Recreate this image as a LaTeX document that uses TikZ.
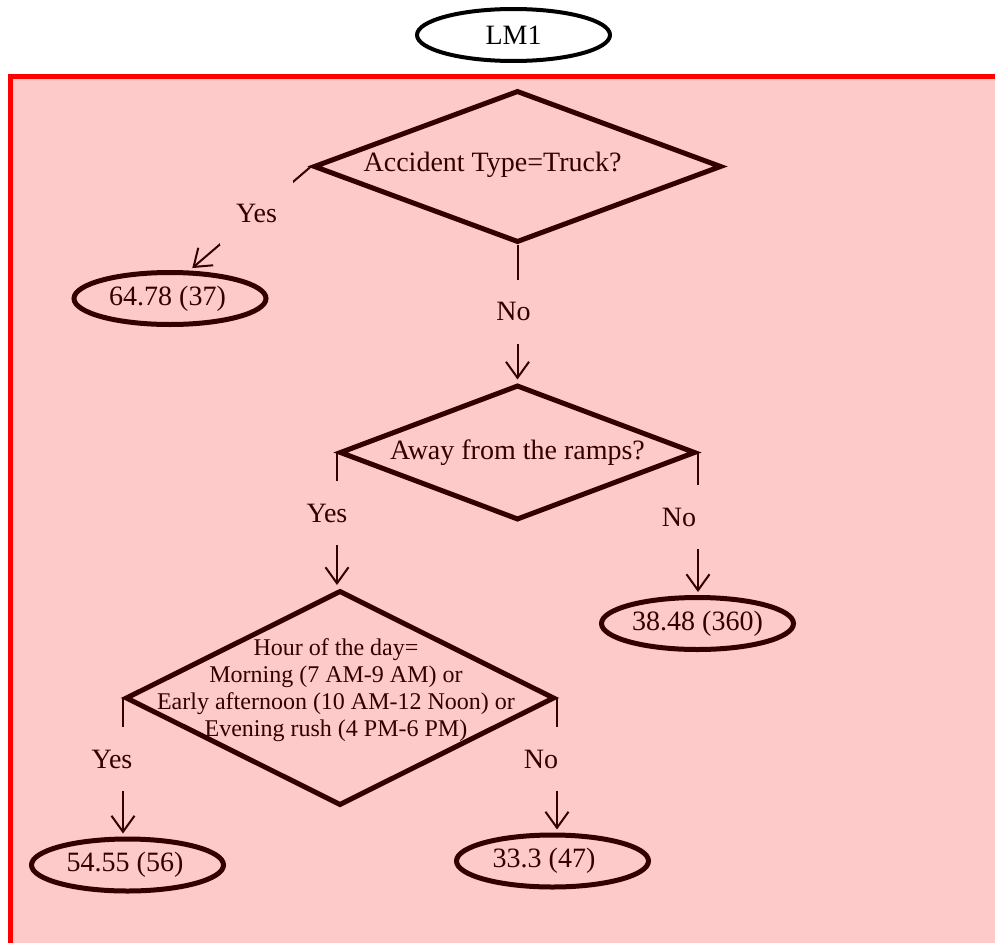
\documentclass[tikz,border=0pt]{standalone}
\usepackage{fontspec}
\setmainfont{Liberation Serif}
\usetikzlibrary{shapes.geometric,arrows.meta}
\definecolor{ink}{RGB}{51,0,0}
\definecolor{panel}{RGB}{253,201,201}
\begin{document}
\begin{tikzpicture}[x=1pt,y=-1pt,
  every node/.style={text=ink, font=\fontsize{28}{32}\selectfont},
  rootnode/.style={ellipse, draw=black, text=black, line width=4pt,
    minimum width=193pt, minimum height=52pt, inner sep=0pt},
  decision/.style={diamond, draw=ink, line width=5pt, inner sep=0pt},
  leaf/.style={ellipse, draw=ink, line width=5pt,
    minimum width=192pt, minimum height=52pt, inner sep=0pt},
  branch/.style={fill=panel, minimum height=64pt, inner xsep=16pt, inner ysep=0pt,
    minimum width=72pt},
  link/.style={draw=ink, line width=2pt, shorten >=3pt,
    -{Straight Barb[length=16pt,width=23pt]}}]
\useasboundingbox (0,0) rectangle (995,942);
\clip (0,0) rectangle (995,942);

% model panel
\draw[red, line width=5pt, fill=panel] (10.5,76.5) rectangle (1020,970);

% root of the model tree
\node[rootnode] (lm1) at (513.5,35) {LM1};

% decisions and leaves
\node[decision, aspect=2.68, minimum width=408pt, minimum height=152pt] (d1) at (517.5,166.5) {};
\node (d1q) at (492.5,164.5) {Accident Type=Truck?};
\node[leaf] (l1) at (170,298.5) {64.78 (37)\hspace*{5pt}};
\node[decision, aspect=2.65, minimum width=356pt, minimum height=135pt] (d2) at (517.5,452.5)
  {Away from the ramps?};
\node[leaf] (l2) at (697.5,623.5) {38.48 (360)};
\node[decision, aspect=2.03, minimum width=429pt, minimum height=215pt] (d3) at (340,698) {};
\node[align=center, font=\fontsize{24}{27}\selectfont] (d3q) at (336,690)
  {Hour of the day=\\Morning (7 AM-9 AM) or\\Early afternoon (10 AM-12 Noon) or\\Evening rush (4 PM-6 PM)};
\node[leaf] (l3) at (127.5,865) {54.55 (56)\hspace*{5pt}};
\node[leaf] (l4) at (552.5,861) {33.3 (47)\hspace*{17pt}};

% branches
\draw[link] (d1.west) -- node[branch, minimum width=0pt, pos=0.45] {Yes} ([xshift=20pt]l1.north);
\draw[link] (d1.south) -- node[branch, pos=0.486, xshift=-4pt] {No} (d2.north);
\draw[link] (d2.west) -- node[branch, pos=0.45, xshift=-10pt] {Yes} (d2.west |- d3.north);
\draw[link] (d2.east) -- node[branch, pos=0.455, xshift=-19pt] {No} (d2.east |- l2.north);
\draw[link] (d3.west) -- node[branch, pos=0.443, xshift=-11pt] {Yes} (d3.west |- l3.north);
\draw[link] (d3.east) -- node[branch, pos=0.456, xshift=-16pt] {No} (d3.east |- l4.north);
\end{tikzpicture}
\end{document}
